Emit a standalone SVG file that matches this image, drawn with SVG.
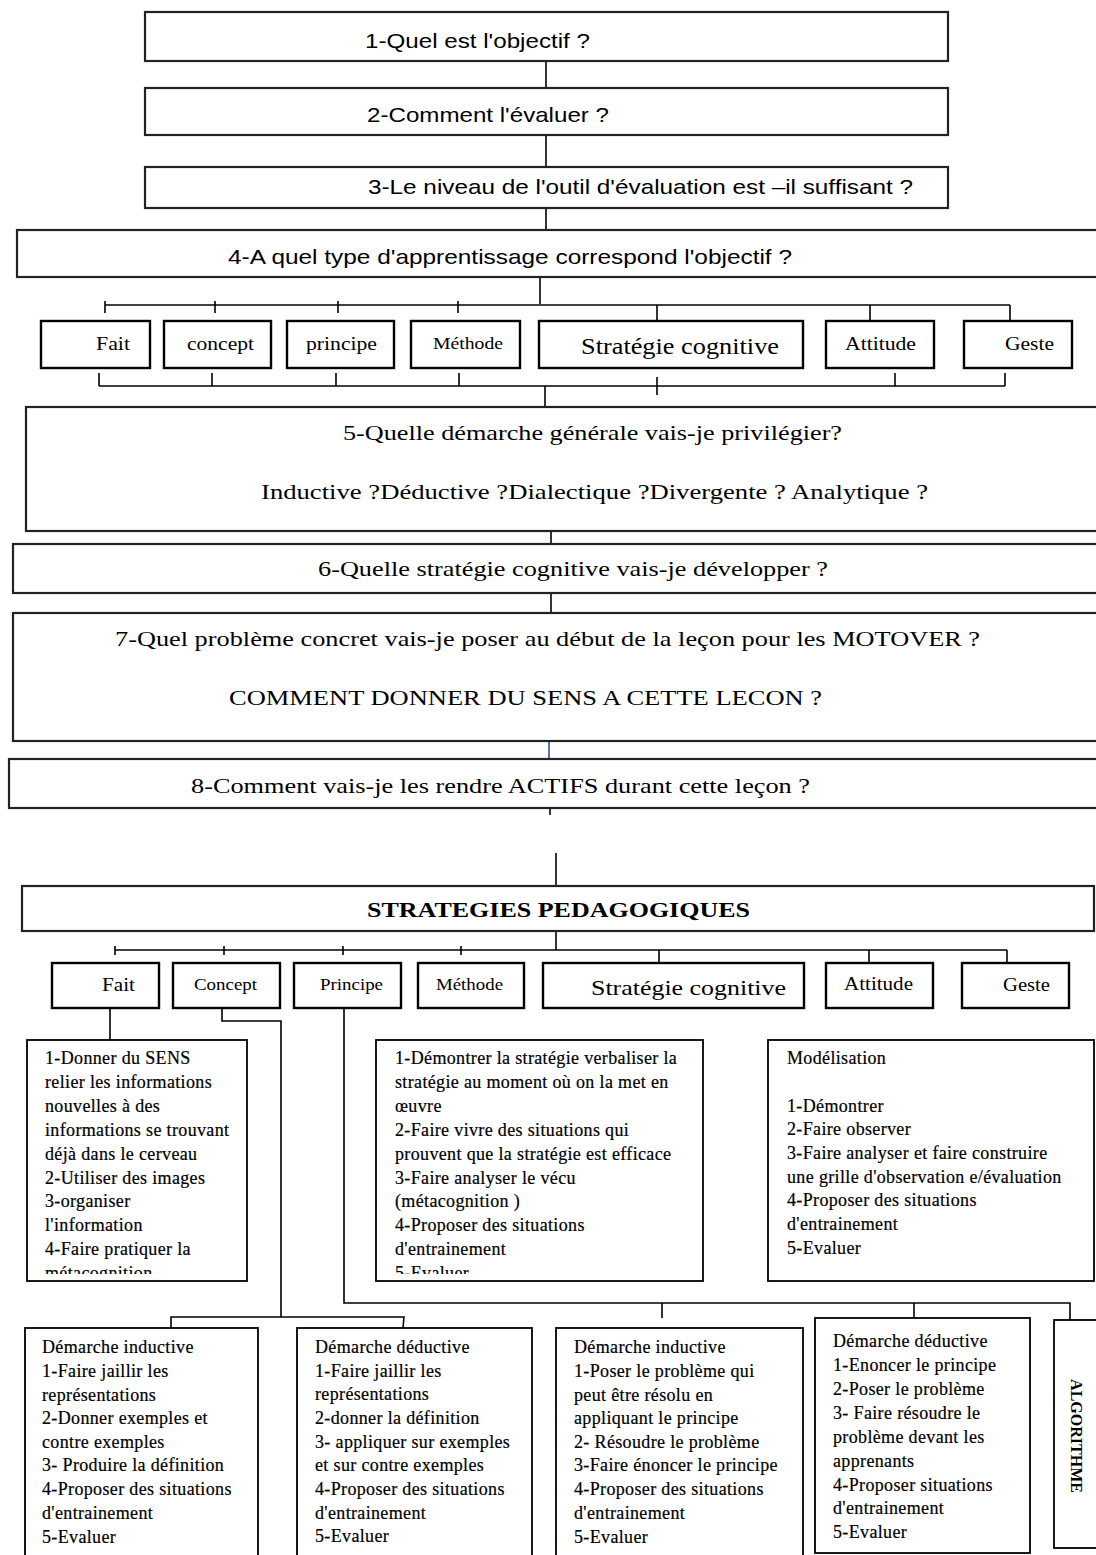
<svg xmlns="http://www.w3.org/2000/svg" width="1096" height="1555" viewBox="0 0 1096 1555">
<style>
.box{fill:#fff;stroke:#000;stroke-width:2}
.tbox{fill:#fff;stroke:#222;stroke-width:2.2}
.cat{fill:#fff;stroke:#000;stroke-width:2.4}
.sbox{fill:#fff;stroke:#000;stroke-width:1.8}
.sans{font-family:"Liberation Sans",Arial,sans-serif;font-size:21px;fill:#000}
.serif{font-family:"Liberation Serif","Times New Roman",serif;fill:#000}
.h{font-size:22px}
.c{font-size:19px}
.b{font-size:18px;letter-spacing:0.35px;stroke:#000;stroke-width:0.2}
.conn{stroke:#000;stroke-width:1.6;fill:none}
</style>
<defs>
<clipPath id="clipFait"><rect x="27" y="1040" width="220" height="234"/></clipPath>
<clipPath id="clipStrat"><rect x="376" y="1040" width="327" height="234"/></clipPath>
</defs>
<g id="connectors">
<line class="conn" x1="546" y1="61" x2="546" y2="88"/>
<line class="conn" x1="546" y1="135" x2="546" y2="167"/>
<line class="conn" x1="546" y1="208" x2="546" y2="230"/>
<line class="conn" x1="540" y1="277" x2="540" y2="304"/>
<polyline class="conn" points="105,305 1010,305"/>
<line class="conn" x1="105" y1="301" x2="105" y2="313"/>
<line class="conn" x1="215" y1="301" x2="215" y2="313"/>
<line class="conn" x1="338" y1="301" x2="338" y2="313"/>
<line class="conn" x1="458" y1="301" x2="458" y2="313"/>
<line class="conn" x1="657" y1="305" x2="657" y2="321"/>
<line class="conn" x1="870" y1="305" x2="870" y2="321"/>
<line class="conn" x1="1010" y1="305" x2="1010" y2="321"/>
<polyline class="conn" points="99,386 1005,386"/>
<line class="conn" x1="99" y1="373" x2="99" y2="386"/>
<line class="conn" x1="212" y1="373" x2="212" y2="386"/>
<line class="conn" x1="336" y1="373" x2="336" y2="386"/>
<line class="conn" x1="459" y1="373" x2="459" y2="386"/>
<line class="conn" x1="657" y1="377" x2="657" y2="395"/>
<line class="conn" x1="895" y1="373" x2="895" y2="386"/>
<line class="conn" x1="1005" y1="373" x2="1005" y2="386"/>
<line class="conn" x1="545" y1="386" x2="545" y2="407"/>
<line class="conn" x1="551" y1="531" x2="551" y2="544"/>
<line class="conn" x1="551" y1="593" x2="551" y2="613"/>
<line x1="549" y1="741" x2="549" y2="759" stroke="#2f5597" stroke-width="1.6"/>
<line class="conn" x1="550" y1="808" x2="550" y2="815"/>
<line class="conn" x1="556" y1="853" x2="556" y2="886"/>
<line class="conn" x1="556" y1="931" x2="556" y2="950"/>
<polyline class="conn" points="115,950 1007,950"/>
<line class="conn" x1="115" y1="946" x2="115" y2="955"/>
<line class="conn" x1="224" y1="946" x2="224" y2="955"/>
<line class="conn" x1="343" y1="946" x2="343" y2="955"/>
<line class="conn" x1="461" y1="946" x2="461" y2="955"/>
<line class="conn" x1="659" y1="950" x2="659" y2="963"/>
<line class="conn" x1="869" y1="950" x2="869" y2="963"/>
<line class="conn" x1="1007" y1="950" x2="1007" y2="963"/>
<line class="conn" x1="110" y1="1008" x2="110" y2="1040"/>
<polyline class="conn" points="222,1008 222,1021 281,1021 281,1317"/>
<polyline class="conn" points="171,1328 171,1317 404,1317 403,1328"/>
<polyline class="conn" points="344,1008 344,1303 1070,1303 1070,1320"/>
<line class="conn" x1="662" y1="1303" x2="662" y2="1318"/>
<line class="conn" x1="914" y1="1303" x2="914" y2="1318"/>
</g>
<g id="q1"><rect class="tbox" x="145" y="12" width="803" height="49"/><text class="sans" x="365" y="48" textLength="225" lengthAdjust="spacingAndGlyphs">1-Quel est l'objectif ?</text></g>
<g id="q2"><rect class="tbox" x="145" y="88" width="803" height="47"/><text class="sans" x="367" y="122" textLength="242" lengthAdjust="spacingAndGlyphs">2-Comment l'évaluer ?</text></g>
<g id="q3"><rect class="tbox" x="145" y="167" width="803" height="41"/><text class="sans" x="368" y="194" textLength="545" lengthAdjust="spacingAndGlyphs">3-Le niveau de l'outil d'évaluation est –il suffisant ?</text></g>
<g id="q4"><rect class="tbox" x="17" y="230" width="1090" height="47"/><text class="sans" x="228" y="264" textLength="564" lengthAdjust="spacingAndGlyphs">4-A quel type d'apprentissage correspond l'objectif ?</text></g>
<g id="c1-fait"><rect class="cat" x="41" y="321" width="109" height="47"/><text class="serif c" x="96" y="350" textLength="34" lengthAdjust="spacingAndGlyphs">Fait</text></g>
<g id="c1-concept"><rect class="cat" x="164" y="321" width="107" height="47"/><text class="serif c" x="187" y="350" textLength="67" lengthAdjust="spacingAndGlyphs">concept</text></g>
<g id="c1-principe"><rect class="cat" x="287" y="321" width="107" height="47"/><text class="serif c" x="306" y="350" textLength="71" lengthAdjust="spacingAndGlyphs">principe</text></g>
<g id="c1-methode"><rect class="cat" x="411" y="321" width="109" height="47"/><text class="serif" font-size="17" x="433" y="349" textLength="70" lengthAdjust="spacingAndGlyphs">Méthode</text></g>
<g id="c1-strategie"><rect class="cat" x="539" y="321" width="264" height="47"/><text class="serif" font-size="23" x="581" y="354" textLength="198" lengthAdjust="spacingAndGlyphs">Stratégie cognitive</text></g>
<g id="c1-attitude"><rect class="cat" x="826" y="321" width="108" height="47"/><text class="serif c" x="845" y="350" textLength="71" lengthAdjust="spacingAndGlyphs">Attitude</text></g>
<g id="c1-geste"><rect class="cat" x="964" y="321" width="108" height="47"/><text class="serif c" x="1005" y="350" textLength="49" lengthAdjust="spacingAndGlyphs">Geste</text></g>
<g id="q5"><rect class="tbox" x="26" y="407" width="1080" height="124"/><text class="serif h" x="343" y="440" textLength="499" lengthAdjust="spacingAndGlyphs">5-Quelle démarche générale vais-je privilégier?</text><text class="serif h" x="261" y="499" textLength="667" lengthAdjust="spacingAndGlyphs">Inductive ?Déductive ?Dialectique ?Divergente ? Analytique  ?</text></g>
<g id="q6"><rect class="tbox" x="13" y="544" width="1093" height="49"/><text class="serif h" x="318" y="576" textLength="510" lengthAdjust="spacingAndGlyphs">6-Quelle stratégie cognitive vais-je développer ?</text></g>
<g id="q7"><rect class="tbox" x="13" y="613" width="1093" height="128"/><text class="serif h" x="115" y="646" textLength="865" lengthAdjust="spacingAndGlyphs">7-Quel problème concret vais-je poser au début de la leçon pour les MOTOVER ?</text><text class="serif h" x="229" y="705" textLength="593" lengthAdjust="spacingAndGlyphs">COMMENT DONNER DU SENS A CETTE LECON ?</text></g>
<g id="q8"><rect class="tbox" x="9" y="759" width="1097" height="49"/><text class="serif h" x="191" y="793" textLength="619" lengthAdjust="spacingAndGlyphs">8-Comment vais-je les rendre ACTIFS durant cette leçon ?</text></g>
<g id="strategies"><rect class="tbox" x="22" y="886" width="1072" height="45"/><text class="serif" font-size="21" font-weight="bold" x="367" y="917" textLength="383" lengthAdjust="spacingAndGlyphs">STRATEGIES PEDAGOGIQUES</text></g>
<g id="c2-fait"><rect class="cat" x="52" y="963" width="107" height="45"/><text class="serif c" x="102" y="991" textLength="33" lengthAdjust="spacingAndGlyphs">Fait</text></g>
<g id="c2-concept"><rect class="cat" x="173" y="963" width="107" height="45"/><text class="serif" font-size="17" x="194" y="990" textLength="63" lengthAdjust="spacingAndGlyphs">Concept</text></g>
<g id="c2-principe"><rect class="cat" x="294" y="963" width="107" height="45"/><text class="serif" font-size="17" x="320" y="990" textLength="63" lengthAdjust="spacingAndGlyphs">Principe</text></g>
<g id="c2-methode"><rect class="cat" x="418" y="963" width="106" height="45"/><text class="serif" font-size="17" x="436" y="990" textLength="67" lengthAdjust="spacingAndGlyphs">Méthode</text></g>
<g id="c2-strategie"><rect class="cat" x="543" y="963" width="261" height="45"/><text class="serif" font-size="22" x="591" y="995" textLength="195" lengthAdjust="spacingAndGlyphs">Stratégie cognitive</text></g>
<g id="c2-attitude"><rect class="cat" x="826" y="963" width="107" height="45"/><text class="serif" font-size="18" x="844" y="990" textLength="69" lengthAdjust="spacingAndGlyphs">Attitude</text></g>
<g id="c2-geste"><rect class="cat" x="962" y="963" width="107" height="45"/><text class="serif c" x="1003" y="991" textLength="47" lengthAdjust="spacingAndGlyphs">Geste</text></g>
<g id="fait-detail"><rect class="sbox" x="27" y="1040" width="220" height="241"/>
<text class="serif b" clip-path="url(#clipFait)"><tspan x="45" y="1064">1-Donner du SENS</tspan><tspan x="45" y="1088">relier les informations</tspan><tspan x="45" y="1112">nouvelles à des</tspan><tspan x="45" y="1136">informations se trouvant</tspan><tspan x="45" y="1160">déjà dans le cerveau</tspan><tspan x="45" y="1184">2-Utiliser des images</tspan><tspan x="45" y="1207">3-organiser</tspan><tspan x="45" y="1231">l'information</tspan><tspan x="45" y="1255">4-Faire pratiquer la</tspan><tspan x="45" y="1279">métacognition</tspan></text></g>
<g id="strategie-detail"><rect class="sbox" x="376" y="1040" width="327" height="241"/>
<text class="serif b" clip-path="url(#clipStrat)"><tspan x="395" y="1064">1-Démontrer la stratégie verbaliser la</tspan><tspan x="395" y="1088">stratégie au moment où on la met en</tspan><tspan x="395" y="1112">œuvre</tspan><tspan x="395" y="1136">2-Faire vivre des situations qui</tspan><tspan x="395" y="1160">prouvent que la stratégie est efficace</tspan><tspan x="395" y="1184">3-Faire analyser le vécu</tspan><tspan x="395" y="1207">(métacognition )</tspan><tspan x="395" y="1231">4-Proposer des situations</tspan><tspan x="395" y="1255">d'entrainement</tspan><tspan x="395" y="1279">5-Evaluer</tspan></text></g>
<g id="geste-detail"><rect class="sbox" x="768" y="1040" width="326" height="241"/>
<text class="serif b"><tspan x="787" y="1064">Modélisation</tspan><tspan x="787" y="1112">1-Démontrer</tspan><tspan x="787" y="1135">2-Faire observer</tspan><tspan x="787" y="1159">3-Faire analyser et faire construire</tspan><tspan x="787" y="1183">une grille d'observation e/évaluation</tspan><tspan x="787" y="1206">4-Proposer des situations</tspan><tspan x="787" y="1230">d'entrainement</tspan><tspan x="787" y="1254">5-Evaluer</tspan></text></g>
<g id="concept-inductive"><rect class="sbox" x="25" y="1328" width="233" height="240"/>
<text class="serif b"><tspan x="42" y="1353">Démarche inductive</tspan><tspan x="42" y="1377">1-Faire jaillir les</tspan><tspan x="42" y="1401">représentations</tspan><tspan x="42" y="1424">2-Donner exemples et</tspan><tspan x="42" y="1448">contre exemples</tspan><tspan x="42" y="1471">3- Produire la définition</tspan><tspan x="42" y="1495">4-Proposer des situations</tspan><tspan x="42" y="1519">d'entrainement</tspan><tspan x="42" y="1543">5-Evaluer</tspan></text></g>
<g id="concept-deductive"><rect class="sbox" x="297" y="1328" width="235" height="240"/>
<text class="serif b"><tspan x="315" y="1353">Démarche déductive</tspan><tspan x="315" y="1377">1-Faire jaillir les</tspan><tspan x="315" y="1400">représentations</tspan><tspan x="315" y="1424">2-donner la définition</tspan><tspan x="315" y="1448">3- appliquer sur exemples</tspan><tspan x="315" y="1471">et sur contre exemples</tspan><tspan x="315" y="1495">4-Proposer des situations</tspan><tspan x="315" y="1519">d'entrainement</tspan><tspan x="315" y="1542">5-Evaluer</tspan></text></g>
<g id="principe-inductive"><rect class="sbox" x="556" y="1328" width="247" height="240"/>
<text class="serif b"><tspan x="574" y="1353">Démarche inductive</tspan><tspan x="574" y="1377">1-Poser le problème qui</tspan><tspan x="574" y="1401">peut être résolu en</tspan><tspan x="574" y="1424">appliquant le principe</tspan><tspan x="574" y="1448">2- Résoudre le problème</tspan><tspan x="574" y="1471">3-Faire énoncer le principe</tspan><tspan x="574" y="1495">4-Proposer des situations</tspan><tspan x="574" y="1519">d'entrainement</tspan><tspan x="574" y="1543">5-Evaluer</tspan></text></g>
<g id="principe-deductive"><rect class="sbox" x="815" y="1318" width="215" height="235"/>
<text class="serif b"><tspan x="833" y="1347">Démarche déductive</tspan><tspan x="833" y="1371">1-Enoncer le principe</tspan><tspan x="833" y="1395">2-Poser le problème</tspan><tspan x="833" y="1419">3- Faire résoudre le</tspan><tspan x="833" y="1443">problème devant les</tspan><tspan x="833" y="1467">apprenants</tspan><tspan x="833" y="1491">4-Proposer situations</tspan><tspan x="833" y="1514">d'entrainement</tspan><tspan x="833" y="1538">5-Evaluer</tspan></text></g>
<g id="algorithme"><rect class="sbox" x="1054" y="1320" width="60" height="228"/>
<text class="serif" font-size="16" font-weight="bold" text-anchor="middle" transform="translate(1071,1436) rotate(90)" x="0" y="0">ALGORITHME</text></g>
</svg>
